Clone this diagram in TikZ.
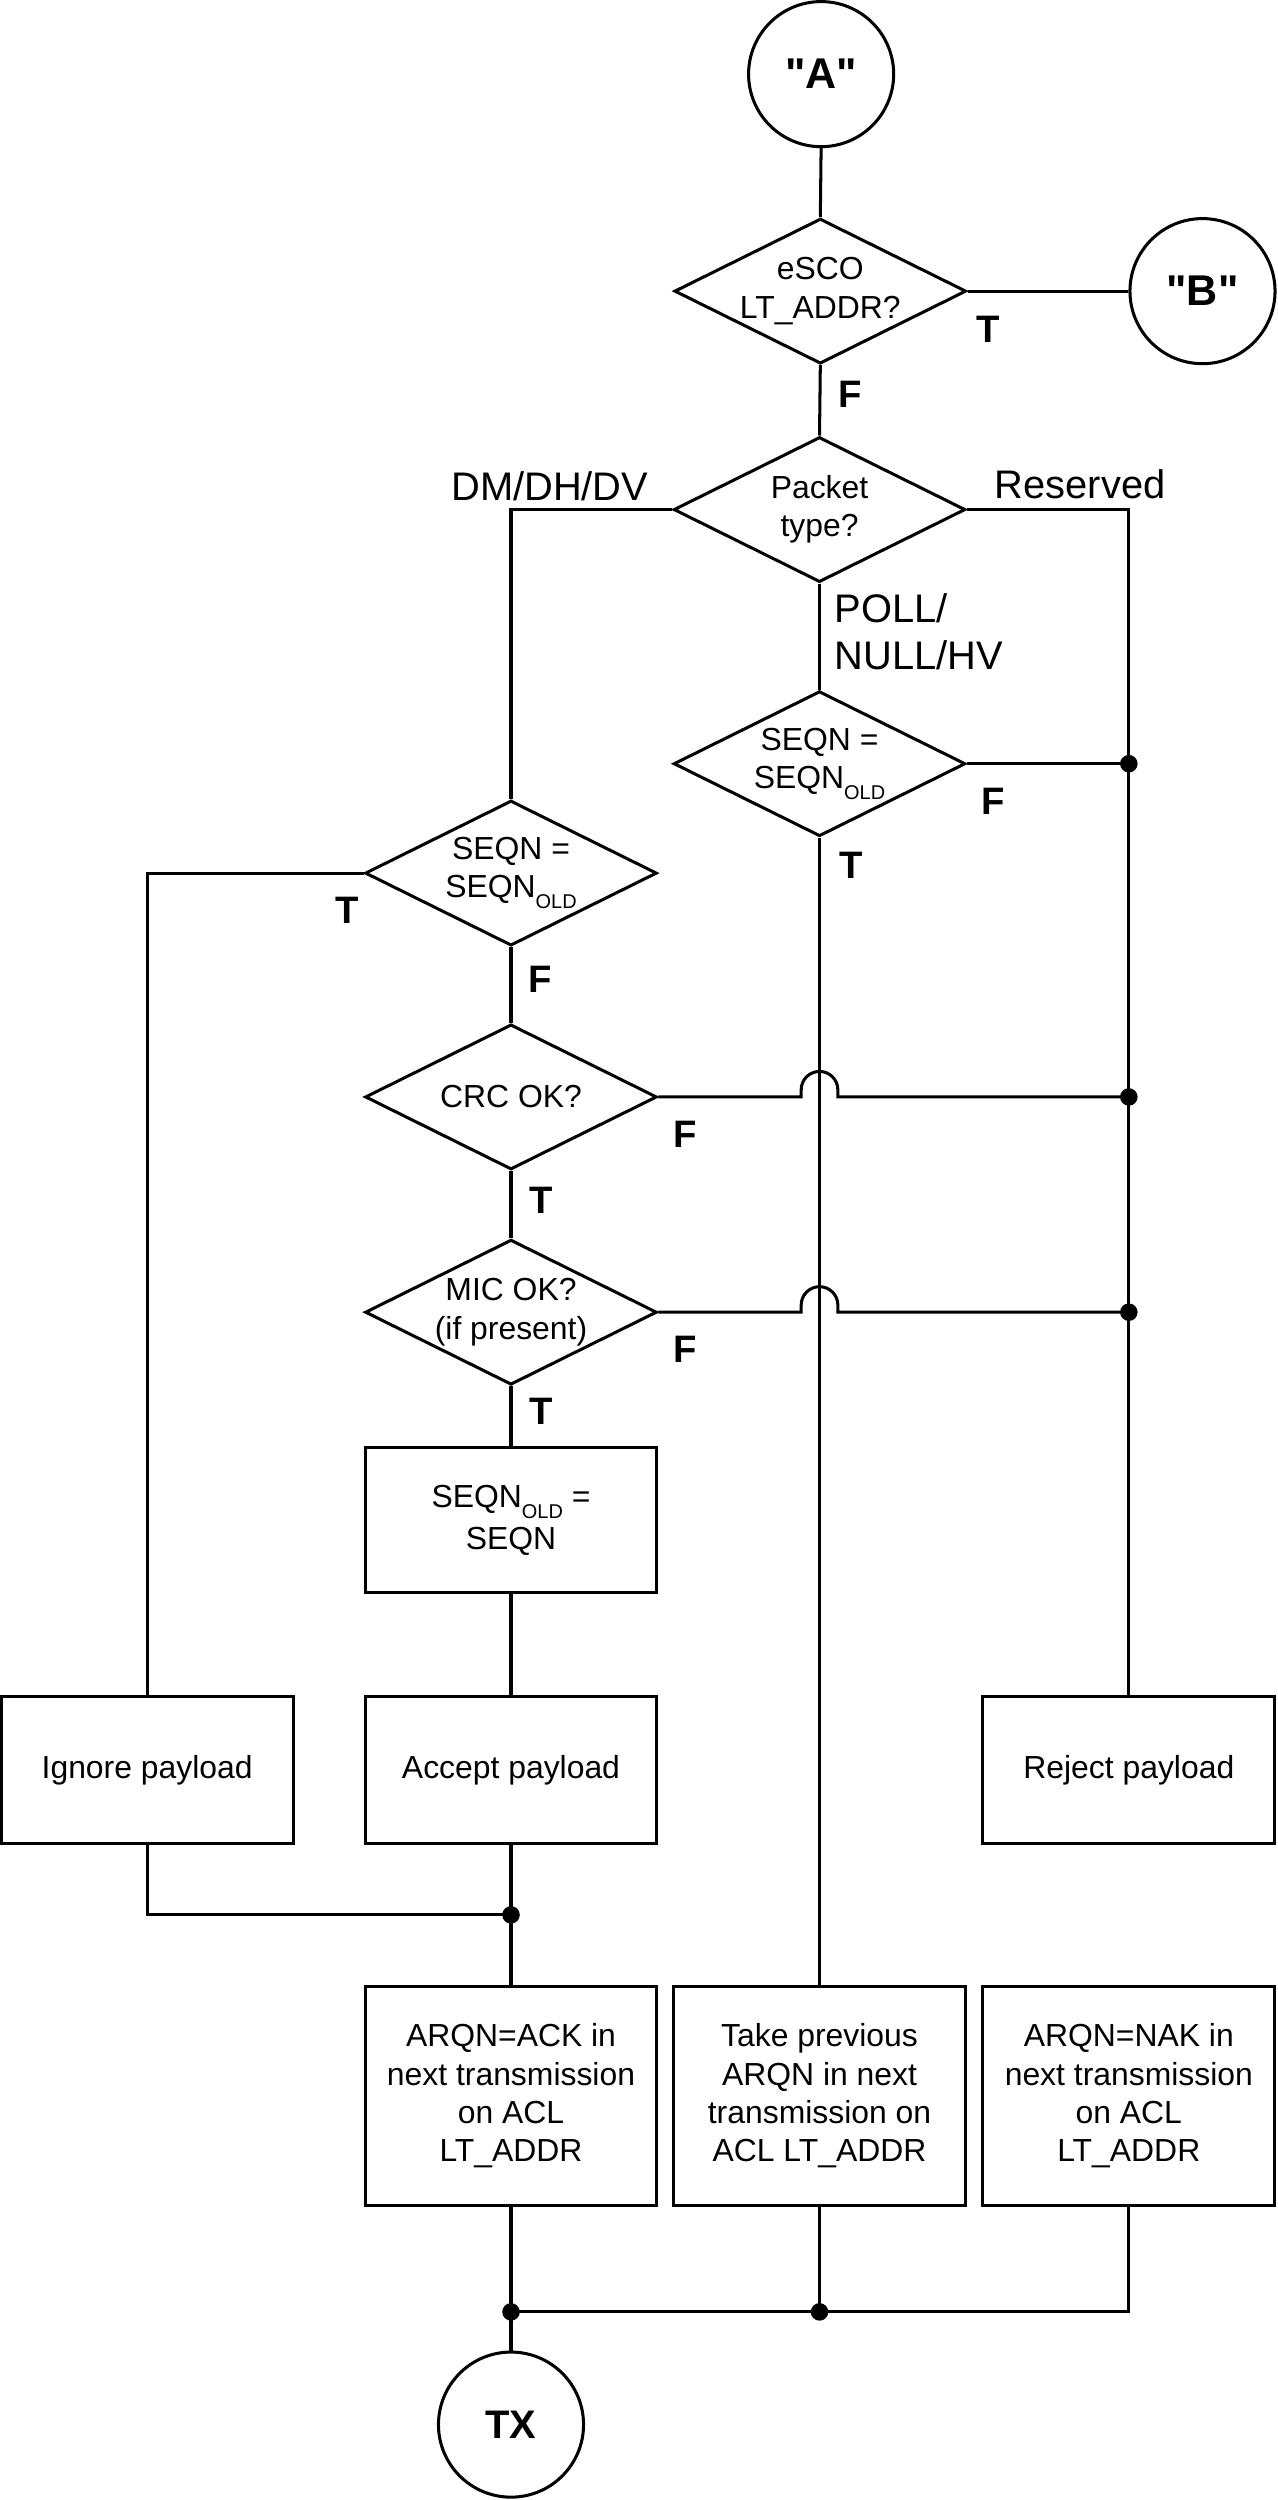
\documentclass[tikz,border=0pt]{standalone}
\usepackage{fontspec}
\setmainfont{Liberation Sans}[Ligatures=TeXOff]
\usetikzlibrary{shapes.geometric}
\newcommand\lowsub[1]{\raisebox{-7pt}{\fontsize{12.5}{12.5}\selectfont #1}}
\begin{document}
\begin{tikzpicture}[x=1pt,y=-1pt,line width=1.9pt,
  dia/.style={draw, diamond, minimum width=183pt, minimum height=91pt, inner sep=0pt},
  dtext/.style={font=\fontsize{20}{24}\selectfont, align=center, inner sep=0pt},
  box/.style={draw, rectangle, minimum width=183pt, inner sep=0pt, font=\fontsize{20}{24}\selectfont, align=center},
  term/.style={draw, circle, minimum size=91pt, inner sep=0pt, font=\bfseries\fontsize{27}{27}\selectfont},
  tf/.style={font=\bfseries\fontsize{24}{24}\selectfont, inner sep=0pt},
  lab/.style={font=\fontsize{25}{30}\selectfont, inner sep=0pt},
  jdot/.style={circle, fill, minimum size=11pt, inner sep=0pt}]
\useasboundingbox (0,0) rectangle (801,1568);

% terminals
\node[term] (A) at (515,46.5) {"A"};
\node[term] (B) at (754.2,182.6) {"B"};
\node[term, font=\bfseries\fontsize{25}{25}\selectfont] (tx) at (320.5,1520.7) {TX};

% decisions
\node[dia, label={[dtext]center:{eSCO\\LT\_ADDR?}}] (esco) at (514.5,182.6) {};
\node[dia, label={[dtext]center:{Packet\\type?}}] (pkt) at (514,319.6) {};
\node[dia, label={[dtext]center:{SEQN =\\SEQN\lowsub{OLD}}}] (seq2) at (514,479) {};
\node[dia, label={[dtext]center:{SEQN =\\SEQN\lowsub{OLD}}}] (seq1) at (320.5,547.6) {};
\node[dia, label={[dtext]center:{CRC OK?}}] (crc) at (320.5,688) {};
\node[dia, label={[dtext]center:{MIC OK?\\(if present)}}] (mic) at (320.5,823) {};

% boxes
\node[box, minimum height=91pt] (upd) at (320.5,953.5) {SEQN\lowsub{OLD} =\\[2.3pt]SEQN};
\node[box, minimum height=92pt] (ign) at (92.3,1110) {Ignore payload};
\node[box, minimum height=92pt] (acc) at (320.5,1110) {Accept payload};
\node[box, minimum height=92pt] (rej) at (708,1110) {Reject payload};
\node[box, minimum height=137pt] (ack) at (320.5,1314.5) {ARQN=ACK in\\next transmission\\on ACL\\LT\_ADDR};
\node[box, minimum height=137pt] (prev) at (514,1314.5) {Take previous\\ARQN in next\\transmission on\\ACL LT\_ADDR};
\node[box, minimum height=137pt] (nak) at (708,1314.5) {ARQN=NAK in\\next transmission\\on ACL\\LT\_ADDR};

% junctions
\node[jdot] (d1) at (708,479) {};
\node[jdot] (d2) at (708,688) {};
\node[jdot] (d3) at (708,823) {};
\node[jdot] (d4) at (320.5,1201) {};
\node[jdot] (d5) at (320.5,1450) {};
\node[jdot] (d6) at (514,1450) {};
\coordinate (pL) at (320.5,319.6);
\coordinate (pR) at (708,319.6);
\coordinate (sL) at (92.3,547.6);
\coordinate (iL) at (92.3,1201);
\coordinate (nR) at (708,1450);
\coordinate (h1) at (502.5,688);
\coordinate (h2) at (502.5,823);

% connectors
\draw (A.south) -- (esco.north);
\draw (esco.east) -- (B.west);
\draw (esco.south) -- (pkt.north);
\draw (pkt.west) -- (pL) -- (seq1.north);
\draw (pkt.east) -- (pR) -- (d1.center) -- (d2.center) -- (d3.center) -- (rej.north);
\draw (pkt.south) -- (seq2.north);
\draw (seq2.east) -- (d1.center);
\draw (seq2.south) -- (prev.north);
\draw (seq1.west) -- (sL) -- (ign.north);
\draw (seq1.south) -- (crc.north);
\draw (crc.south) -- (mic.north);
\draw (mic.south) -- (upd.north);
\draw (upd.south) -- (acc.north);
\draw (crc.east) -- (h1) -- ++(0pt,4.5pt) arc[start angle=180,end angle=0,radius=11.5pt] -- ++(0pt,-4.5pt) -- (d2.center);
\draw (mic.east) -- (h2) -- ++(0pt,4.5pt) arc[start angle=180,end angle=0,radius=11.5pt] -- ++(0pt,-4.5pt) -- (d3.center);
\draw (ign.south) -- (iL) -- (d4.center);
\draw (acc.south) -- (d4.center) -- (ack.north);
\draw (ack.south) -- (d5.center) -- (tx.north);
\draw (prev.south) -- (d6.center);
\draw (nak.south) -- (nR) -- (d6.center) -- (d5.center);

% labels
\node[tf] (tEsco) at (620,206.5) {T};
\node[tf] (fEsco) at (533.5,247.5) {F};
\node[lab, anchor=base east] (lDM) at (407.6,313.8) {DM/DH/DV};
\node[lab, anchor=base west] (lRes) at (623,312.8) {Reserved};
\node[lab, anchor=base west] (lPollA) at (522.6,390.3) {POLL/};
\node[lab, anchor=base west] (lPollB) at (522.6,420) {NULL/HV};
\node[tf] (fSeq2) at (623,502.5) {F};
\node[tf] (tSeq2) at (534,543) {T};
\node[tf] (tSeq1) at (218,571) {T};
\node[tf] (fSeq1) at (339,614.4) {F};
\node[tf] (fCrc) at (430,711.5) {F};
\node[tf] (tCrc) at (339.5,753) {T};
\node[tf] (fMic) at (430,846) {F};
\node[tf] (tMic) at (339.5,885) {T};
\end{tikzpicture}
\end{document}
